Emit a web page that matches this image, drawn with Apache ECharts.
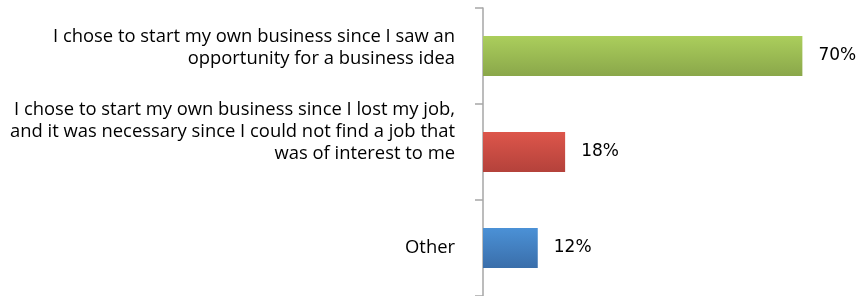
<!DOCTYPE html>
<html>
<head>
<meta charset="utf-8">
<script src="https://cdn.jsdelivr.net/npm/echarts@6/dist/echarts.min.js"></script>
<style>
  html, body { margin: 0; padding: 0; background: #fff; }
  #chart { width: 862px; height: 296px; }
</style>
</head>
<body>
<div id="chart"></div>
<script>
const categories = [
  'I chose to start my own business since I saw an\nopportunity for a business idea',
  'I chose to start my own business since I lost my job,\nand it was necessary since I could not find a job that\nwas of interest to me',
  'Other'
];
const values = [70, 18, 12];
const barColors = [
  ['#abce5c', '#8aa74a'],
  ['#dd564b', '#b4423b'],
  ['#4b91d6', '#3a6eaa']
];

const chart = echarts.init(document.getElementById('chart'), null, { renderer: 'canvas' });

// Excel-style labels sit a bit above the band centre; a spacer line nudges them up
const spacer = ['\n{s1| }', '\n{s2| }', ''];

const option = {
  backgroundColor: '#ffffff',
  animation: false,
  grid: { left: 483, right: 14, top: 8, bottom: 0, containLabel: false },
  xAxis: {
    type: 'value',
    min: 0,
    max: 80,
    show: false
  },
  yAxis: {
    type: 'category',
    inverse: true,
    data: categories,
    axisLine: { show: true, lineStyle: { color: '#a6a6a6', width: 1.5 } },
    axisTick: { show: true, length: 8, lineStyle: { color: '#a6a6a6', width: 1.5 } },
    axisLabel: {
      margin: 28,
      color: '#000',
      fontFamily: 'Open Sans',
      fontSize: 18.4,
      lineHeight: 22,
      align: 'right',
      formatter: (v, i) => v + spacer[i],
      rich: {
        s1: { lineHeight: 17, fontSize: 10 },
        s2: { lineHeight: 40, fontSize: 10 }
      }
    }
  },
  series: [{
    type: 'bar',
    barWidth: 40,
    data: values.map((v, i) => ({
      value: v,
      itemStyle: {
        color: new echarts.graphic.LinearGradient(0, 0, 0, 1, [
          { offset: 0, color: barColors[i][0] },
          { offset: 1, color: barColors[i][1] }
        ])
      }
    })),
    label: {
      show: true,
      position: 'right',
      distance: 16,
      formatter: '{c}%',
      color: '#000',
      fontFamily: 'DejaVu Sans',
      fontSize: 17
    }
  }]
};

chart.setOption(option);
</script>
</body>
</html>
